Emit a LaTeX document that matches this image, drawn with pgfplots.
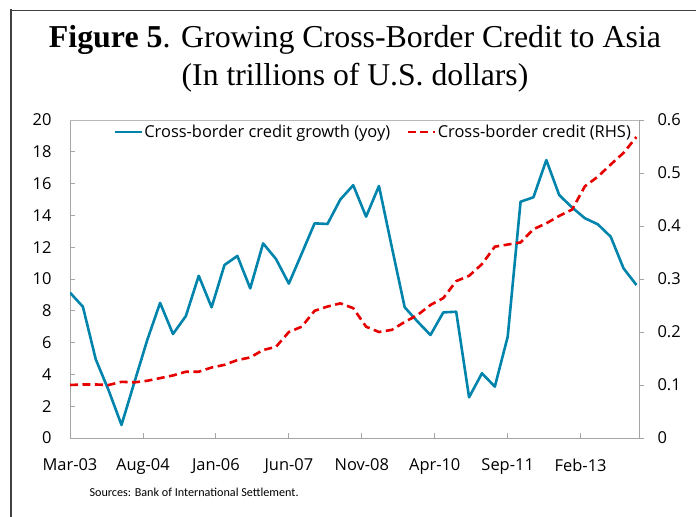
\documentclass[border=0pt]{standalone}
\usepackage{pgfplots}
\pgfplotsset{compat=1.18}
\usepackage{fontspec}
\setmainfont{Liberation Serif}
\newfontfamily\osans{Open Sans}
\newfontfamily\carlito{Carlito}
\definecolor{credblue}{RGB}{0,132,172}
\definecolor{credred}{RGB}{230,0,0}
\definecolor{axgray}{RGB}{165,165,165}

% quarterly, Mar-03 = 0 ... Mar-14 = 44
\pgfplotstableread{
q growth
0 9.14
1 8.26
2 4.95
3 3.00
4 0.82
5 3.50
6 6.16
7 8.50
8 6.54
9 7.67
10 10.20
11 8.22
12 10.88
13 11.45
14 9.41
15 12.24
16 11.26
17 9.71
18 11.60
19 13.50
20 13.46
21 15.00
22 15.90
23 13.92
24 15.85
25 12.00
26 8.22
27 7.32
28 6.48
29 7.90
30 7.94
31 2.56
32 4.07
33 3.23
34 6.37
35 14.86
36 15.14
37 17.48
38 15.28
39 14.50
40 13.82
41 13.44
42 12.66
43 10.67
44 9.62
}\growth

\pgfplotstableread{
q credit
0 0.100
1 0.101
2 0.101
3 0.100
4 0.106
5 0.105
6 0.108
7 0.113
8 0.118
9 0.125
10 0.125
11 0.133
12 0.138
13 0.147
14 0.152
15 0.166
16 0.172
17 0.200
18 0.210
19 0.240
20 0.248
21 0.254
22 0.245
23 0.210
24 0.200
25 0.204
26 0.219
27 0.232
28 0.251
29 0.264
30 0.296
31 0.306
32 0.328
33 0.361
34 0.365
35 0.369
36 0.394
37 0.405
38 0.419
39 0.431
40 0.475
41 0.493
42 0.516
43 0.538
44 0.568
}\credit

\pgfplotsset{
  common/.style={
    at={(70bp,79bp)}, anchor=south west,
    width=569bp, height=318bp, scale only axis,
    xmin=0, xmax=44.2,
    major tick length=5bp,
    tick style={axgray, line width=0.8bp},
    axis line style={axgray, line width=0.8bp},
    tick label style={font=\osans\fontsize{16.5}{19}\selectfont},
    /pgf/number format/assume math mode=true,
  }
}

\begin{document}
\begin{tikzpicture}
\path[use as bounding box] (0bp,0bp) rectangle (696bp,517bp);
\draw[line width=1.5bp, black!75] (11bp,0bp) -- (11bp,507.5bp);
\draw[line width=1.5bp, black!75] (10.25bp,506.5bp) -- (696bp,506.5bp);

\node[font=\fontsize{32}{36}\selectfont] at (355bp,477bp) {\textbf{Figure 5}. Growing Cross-Border Credit to Asia};
\node[font=\fontsize{31.8}{36}\selectfont] at (355bp,439bp) {(In trillions of U.S. dollars)};

\begin{axis}[common,
  axis x line*=bottom, axis y line*=left,
  tick align=inside,
  ymin=0, ymax=20, ytick={0,2,...,20},
  xtick={0,5.6667,11.3333,17,22.6667,28.3333,34,39.6667},
  xticklabels={Mar-03,Aug-04,Jan-06,Jun-07,Nov-08,Apr-10,Sep-11,Feb-13},
  x tick label style={yshift=-17bp},
  y tick label style={xshift=-15bp},
]
\addplot[credblue, line width=2.6bp, line join=round] table[x=q, y=growth] {\growth};
\end{axis}

\begin{axis}[common,
  axis x line*=top, axis y line*=right,
  x axis line style={black!28},
  xtick=\empty,
  tick align=outside,
  ymin=0, ymax=0.6, ytick={0,0.1,0.2,0.3,0.4,0.5,0.6},
  y tick label style={xshift=10bp},
  legend columns=2,
  legend cell align=left,
  legend style={draw=none, fill=none, at={(0.0756,0.962)}, anchor=west,
    font=\osans\fontsize{16.5}{19}\selectfont, inner sep=0pt,
    nodes={inner sep=1.5bp},
    /tikz/every even column/.append style={column sep=15bp}},
  legend image code/.code={\draw[#1] (0bp,0bp) -- (27bp,0bp);},
]
\addlegendimage{credblue, line width=2.6bp}
\addlegendentry{Cross-border credit growth (yoy)}
\addplot[credred, line width=2.6bp, dash pattern=on 8bp off 4.5bp] table[x=q, y=credit] {\credit};
\addlegendentry{Cross-border credit (RHS)}
\end{axis}

\node[anchor=west, font=\carlito\fontsize{12.2}{14}\selectfont] at (86bp,25bp) {Sources: Bank of International Settlement.};
\end{tikzpicture}
\end{document}
